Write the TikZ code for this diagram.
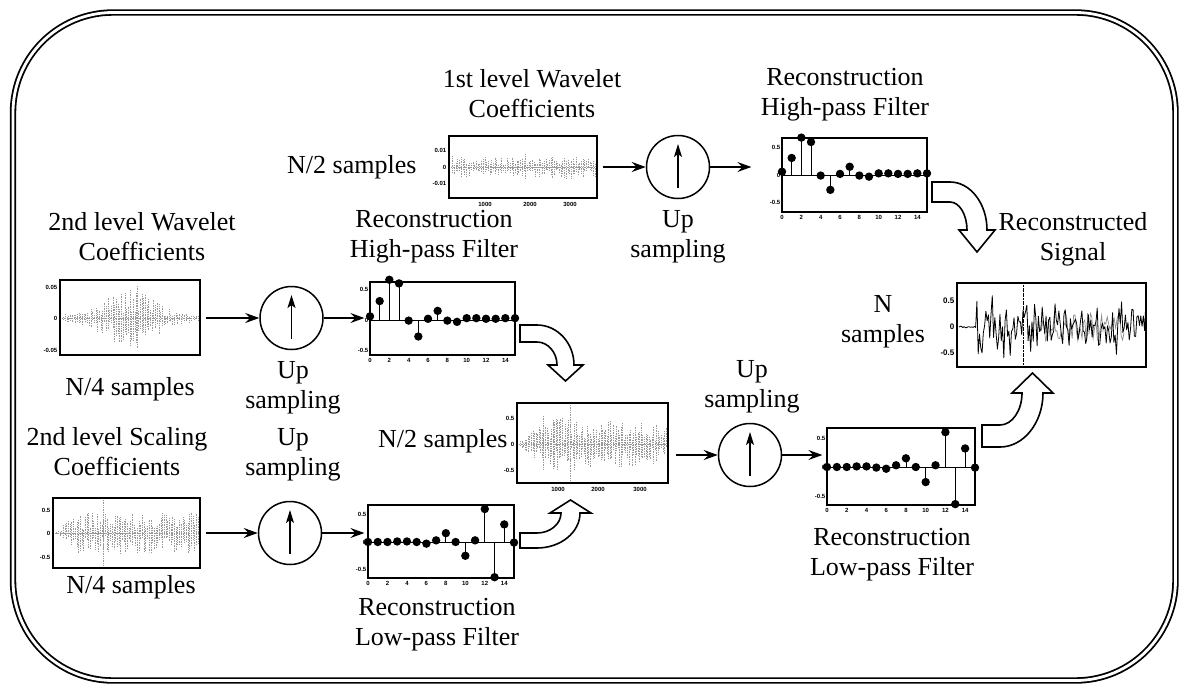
\documentclass[tikz,border=0pt]{standalone}
\usepackage{fontspec}
\setmainfont{Liberation Serif}
\newfontfamily\seriffont{Liberation Serif}
\newfontfamily\tickfont{Liberation Sans}
\usetikzlibrary{arrows.meta}

\tikzset{
 lbl/.style={inner sep=0pt, font=\seriffont\fontsize{26}{30}\selectfont, anchor=base},
 pbox/.style={draw, line width=1.2pt, inner sep=0pt},
 upc/.style={draw, circle, line width=1.5pt, minimum size=63pt, inner sep=0pt},
 arr/.style={line width=1.3pt, -{Stealth[length=14pt,width=10pt,inset=5pt]}},
 iarr/.style={line width=1.4pt, -{Stealth[length=13pt,width=8pt,inset=3pt]}},
 blk/.style={draw, line width=1.6pt, fill=white, line join=miter},
 tick/.style={font=\tickfont\bfseries\fontsize{6}{6}\selectfont, inner sep=0.5pt},
 bigtick/.style={font=\tickfont\bfseries\fontsize{8}{8}\selectfont, inner sep=0.5pt},
 stem/.style={line width=0.8pt},
 noise/.style={black!40, line width=0.7pt, dash pattern=on 0.7pt off 1pt},
 border/.style={line width=1.8pt, double=white, double distance=2.8pt, rounded corners=100pt},
}

% #1 left, #2 right, #3 zero, #4 amp, #5 count, #6 seed, #7 envelope in \nt
\newcommand\noiseplot[7]{%
  \pgfmathsetseed{#6}%
  \draw[noise] (#1+2,#3) -- (#2-2,#3);
  \foreach \k in {1,...,#5}{%
    \pgfmathsetmacro\nt{\k/#5}%
    \pgfmathsetmacro\xx{#1+2+(#2-#1-4)*\nt}%
    \pgfmathsetmacro\en{#7}%
    \pgfmathsetmacro\ua{#4*\en*(0.15+0.85*rnd)}%
    \pgfmathsetmacro\la{#4*\en*(0.15+0.85*rnd)}%
    \draw[noise] (\xx,#3-\ua) -- (\xx,#3+\la);
  }%
}

% #1 prefix, #2 left, #3 right, #4 zero, #5 unit, #6 values, #7 bottom
\newcommand\stemplot[7]{%
  \draw[stem] (#2,#4) -- (#3,#4);
  \foreach \v [count=\i from 0] in {#6}{%
    \pgfmathsetmacro\xx{#2+(#3-#2)*\i/15}%
    \pgfmathsetmacro\yy{#4-#5*\v}%
    \draw[stem] (\xx,#4) -- (\xx,\yy);
    \fill (\xx,\yy) circle[radius=4.2pt];
  }%
  \foreach \t in {0,2,...,14}{%
    \node[tick,anchor=north] (#1x\t) at ({#2+(#3-#2)*\t/15},#7+3) {\t};
  }%
  \node[tick,anchor=east] (#1ya) at (#2-1,{#4-#5*0.5}) {0.5};
  \node[tick,anchor=east] (#1yb) at (#2-1,#4) {0};
  \node[tick,anchor=east] (#1yc) at (#2-1,{#4+#5*0.5}) {-0.5};
}

\begin{document}
\begin{tikzpicture}[x=1pt,y=-1pt]
\useasboundingbox (0,0) rectangle (1181,688);

% outer frame
\draw[border] (13,12.5) rectangle (1175.5,680.5);

% ---------- text labels ----------
\node[lbl] (t1) at (532,87) {\begin{tabular}[t]{@{}c@{}}1st level Wavelet\\Coefficients\end{tabular}};
\node[lbl] (t2) at (845,85) {\begin{tabular}[t]{@{}c@{}}Reconstruction\\High-pass Filter\end{tabular}};
\node[lbl] (t3) at (142,230) {\begin{tabular}[t]{@{}c@{}}2nd level Wavelet\\Coefficients\end{tabular}};
\node[lbl] (t4) at (434,227) {\begin{tabular}[t]{@{}c@{}}Reconstruction\\High-pass Filter\end{tabular}};
\node[lbl] (t5) at (678,227) {\begin{tabular}[t]{@{}c@{}}Up\\sampling\end{tabular}};
\node[lbl] (t6) at (1073,230) {\begin{tabular}[t]{@{}c@{}}Reconstructed\\Signal\end{tabular}};
\node[lbl] (t7) at (883,312) {\begin{tabular}[t]{@{}c@{}}N\\samples\end{tabular}};
\node[lbl] (t8) at (130,395) {N/4 samples};
\node[lbl] (t9) at (293,378) {\begin{tabular}[t]{@{}c@{}}Up\\sampling\end{tabular}};
\node[lbl] (t10) at (752,377) {\begin{tabular}[t]{@{}c@{}}Up\\sampling\end{tabular}};
\node[lbl,anchor=base west] (t11) at (378,447) {N/2 samples};
\node[lbl] (t12) at (117,445) {\begin{tabular}[t]{@{}c@{}}2nd level Scaling\\Coefficients\end{tabular}};
\node[lbl] (t13) at (293,445) {\begin{tabular}[t]{@{}c@{}}Up\\sampling\end{tabular}};
\node[lbl] (t14) at (131,593) {N/4 samples};
\node[lbl] (t15) at (437,615) {\begin{tabular}[t]{@{}c@{}}Reconstruction\\Low-pass Filter\end{tabular}};
\node[lbl] (t16) at (892,545) {\begin{tabular}[t]{@{}c@{}}Reconstruction\\Low-pass Filter\end{tabular}};
\node[lbl,anchor=base west] (t17) at (287,173) {N/2 samples};

% ---------- noise plots contents ----------
% A: 1st level wavelet coefficients
\noiseplot{449}{597}{167}{13}{85}{11}{0.6+0.4*rnd}
\node[tick,anchor=east] (Aya) at (447,150) {0.01};
\node[tick,anchor=east] (Ayb) at (447,167) {0};
\node[tick,anchor=east] (Ayc) at (447,183) {-0.01};
\node[tick,anchor=north] (Axa) at (485,202) {1000};
\node[tick,anchor=north] (Axb) at (530,202) {2000};
\node[tick,anchor=north] (Axc) at (570,202) {3000};

% C: 2nd level wavelet coefficients
\noiseplot{60}{200}{318}{30}{80}{23}{0.1+0.9*exp(-((\nt-0.5)/0.25)^2)}
\draw[noise] (137,286) -- (137,348);
\node[tick,anchor=east] (Cya) at (58,287) {0.05};
\node[tick,anchor=east] (Cyb) at (58,318) {0};
\node[tick,anchor=east] (Cyc) at (58,350) {-0.05};

% E: N/2 samples signal
\noiseplot{517}{668}{444}{30}{95}{37}{min(1,0.08+4*\nt)*(1-0.35*\nt)}
\draw[noise] (570,405) -- (570,481);
\draw[noise] (543,416) -- (543,470);
\draw[noise] (553,420) -- (553,468);
\node[tick,anchor=east] (Eya) at (515,418) {0.5};
\node[tick,anchor=east] (Eyb) at (515,444) {0};
\node[tick,anchor=east] (Eyc) at (515,470) {-0.5};
\node[tick,anchor=north] (Exa) at (558,487) {1000};
\node[tick,anchor=north] (Exb) at (598,487) {2000};
\node[tick,anchor=north] (Exc) at (640,487) {3000};

% F: 2nd level scaling coefficients
\noiseplot{53}{200}{533}{24}{85}{51}{min(1,0.05+6*\nt)*0.85}
\draw[noise] (103,500) -- (103,565);
\node[tick,anchor=east] (Fya) at (51,510) {0.5};
\node[tick,anchor=east] (Fyb) at (51,533) {0};
\node[tick,anchor=east] (Fyc) at (51,557) {-0.5};

% I: reconstructed signal
\pgfmathsetseed{7}
\draw[black!45, line width=0.7pt] (1040,327) \foreach \k in {1,...,60}{ -- ({1040+\k*1.4},{327+14*rand}) };
\pgfmathsetseed{5}
\draw[line width=0.8pt, line join=round] (959,327) \foreach \k in {1,...,146}{ -- ({959+\k*1.28},{327+(0.8+18*(\k>13))*rand*(1+0.7*(rnd>0.85))}) };
\draw[line width=1pt, dash pattern=on 2pt off 0.6pt] (1023,285) -- (1023,366);
\node[bigtick,anchor=east] (Iya) at (955,301) {0.5};
\node[bigtick,anchor=east] (Iyb) at (955,327) {0};
\node[bigtick,anchor=east] (Iyc) at (955,353) {-0.5};

% ---------- stem plots ----------
\stemplot{B}{782}{927}{175}{55}{0.06,0.31,0.68,0.6,-0.01,-0.27,0.02,0.15,-0.01,-0.03,0.03,0.03,0.02,0.02,0.03,0.03}{212}
\stemplot{D}{370}{515}{320}{61}{0.06,0.31,0.66,0.6,-0.01,-0.27,0.02,0.15,-0.01,-0.03,0.03,0.03,0.02,0.02,0.03,0.03}{355}
\stemplot{G}{368}{514}{542}{55}{0,0,0,0.01,0.01,0,-0.03,0.03,0.16,0,-0.25,0.03,0.6,-0.64,0.32,-0.01}{578}
\stemplot{H}{827}{975}{467}{58}{0,0,0,0.01,0.01,-0.01,-0.03,0.03,0.15,0,-0.26,0.03,0.6,-0.64,0.32,-0.01}{505}

% ---------- plot frames ----------
\node[pbox, minimum width=148pt, minimum height=62pt] (A) at (523,167) {};
\node[pbox, minimum width=145pt, minimum height=74pt] (B) at (854.5,175) {};
\node[pbox, minimum width=140pt, minimum height=75pt] (C) at (130,317.5) {};
\node[pbox, minimum width=145pt, minimum height=73pt] (D) at (442.5,318.5) {};
\node[pbox, minimum width=151pt, minimum height=80pt] (E) at (592.5,443) {};
\node[pbox, minimum width=147pt, minimum height=70pt] (F) at (126.5,533) {};
\node[pbox, minimum width=146pt, minimum height=73pt] (G) at (441,541.5) {};
\node[pbox, minimum width=148pt, minimum height=77pt] (H) at (901,466.5) {};
\node[pbox, minimum width=189pt, minimum height=84pt] (I) at (1051.5,325) {};

% ---------- up-sampling circles ----------
\node[upc] (c1) at (678,167) {};
\node[upc] (c2) at (291.5,318) {};
\node[upc] (c3) at (290,533) {};
\node[upc] (c4) at (750,455) {};
\foreach \c in {c1,c2,c3,c4}{
  \draw[iarr] ([yshift=-21pt]\c.center) -- ([yshift=23pt]\c.center);
}

% ---------- connectors ----------
\draw[arr, shorten <=5pt] (A.east) -- (c1.west);
\draw[arr, shorten >=30pt] (c1.east) -- (c1.east -| B.west);
\draw[arr, shorten <=5pt] (C.east |- c2.west) -- (c2.west);
\draw[arr, shorten >=5pt] (c2.east) -- (c2.east -| D.west);
\draw[arr, shorten <=5pt] (F.east) -- (c3.west);
\draw[arr, shorten >=3pt] (c3.east) -- (c3.east -| G.west);
\draw[arr, shorten <=7pt] (c4.west -| E.east) -- (c4.west);
\draw[arr, shorten >=4pt] (c4.east) -- (c4.east -| H.west);

% ---------- block arrows ----------
\path[blk] (932,182) -- (950,182) .. controls (970.4,182) and (987,203.6) .. (987,230) -- (995,230) -- (977,252) -- (959,230) -- (967,230) .. controls (967,214.6) and (959.4,202) .. (950,202) -- (932,202) -- cycle;
\path[blk] (520,325) -- (537,325) .. controls (557.4,325) and (574,343) .. (574,365) -- (583,365) -- (565.5,381) -- (548,365) -- (557,365) .. controls (557,352.4) and (548,342) .. (537,342) -- (520,342) -- cycle;
\path[blk] (520,548) -- (537,548) .. controls (560.7,548) and (580,532.3) .. (580,513) -- (591,513) -- (570.5,500) -- (550,513) -- (561,513) .. controls (561,524) and (550.2,533) .. (537,533) -- (520,533) -- cycle;
\path[blk] (982,447) -- (1000,447) .. controls (1023.7,447) and (1043,422.7) .. (1043,393) -- (1053,393) -- (1032.5,373) -- (1012,393) -- (1022,393) .. controls (1022,410.6) and (1012.1,425) .. (1000,425) -- (982,425) -- cycle;

\end{tikzpicture}
\end{document}
